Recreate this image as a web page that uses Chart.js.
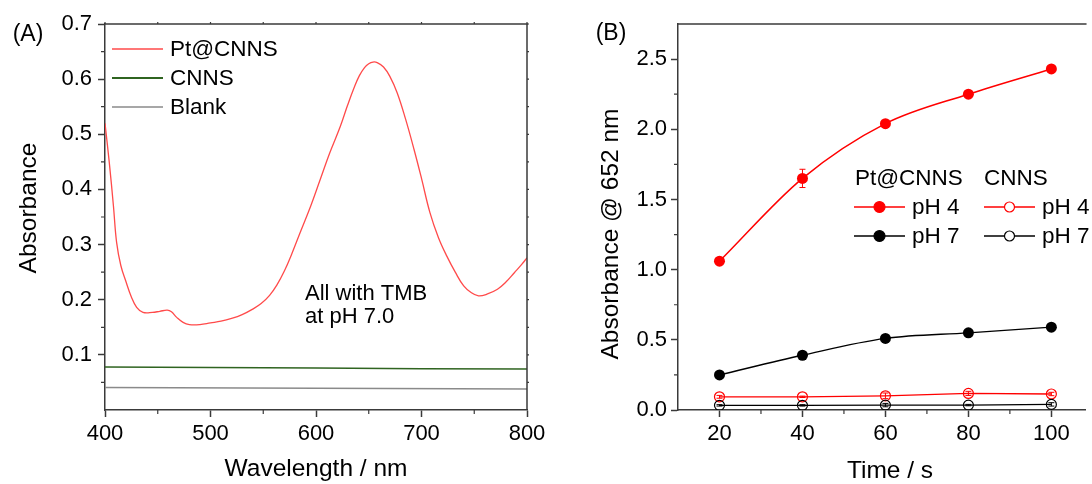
<!DOCTYPE html>
<html><head><meta charset="utf-8">
<script src="https://cdn.jsdelivr.net/npm/chart.js@4/dist/chart.umd.min.js"></script>
<style>
html,body{margin:0;padding:0;background:#fff;width:1092px;height:484px;overflow:hidden}
#ca{position:absolute;left:0;top:0}
#cb{position:absolute;left:560px;top:0}
</style></head><body>
<canvas id="ca" width="560" height="484"></canvas>
<canvas id="cb" width="532" height="484"></canvas>
<script>
// ---------- Panel A data ----------
const wavelengths = [400,404,408,411,415,420,425,430,436,445,452,459,463,468,474,480,490,500,510,520,530,540,548,556,563,570,577,585,595,604,613,623,630,636,641,646,650,654,658,664,670,677,685,693,700,708,716,724,732,740,747,754,762,772,780,788,795,800];
const ptCnnsAbs  = [0.52,0.45,0.37,0.304,0.262,0.232,0.205,0.186,0.177,0.177,0.179,0.181,0.178,0.168,0.159,0.155,0.155,0.158,0.161,0.166,0.173,0.183,0.193,0.208,0.227,0.252,0.283,0.322,0.37,0.418,0.466,0.514,0.553,0.584,0.606,0.621,0.628,0.631,0.63,0.622,0.605,0.575,0.527,0.472,0.42,0.358,0.313,0.279,0.25,0.225,0.213,0.207,0.21,0.219,0.232,0.249,0.264,0.276];
const cnnsWl   = [400,500,600,700,800];
const cnnsAbs  = [0.078,0.077,0.076,0.075,0.0745];
const blankWl  = [400,600,800];
const blankAbs = [0.041,0.0395,0.038];
const xTicksA = [400,500,600,700,800];
const xMinorA = [450,550,650,750];
const yTicksA = [0.1,0.2,0.3,0.4,0.5,0.6,0.7];
const yMinorA = [0.05,0.15,0.25,0.35,0.45,0.55,0.65];

// ---------- Panel B data ----------
const times = [20,40,60,80,100];
const ptPH4 = [1.06,1.65,2.04,2.25,2.43];
const ptPH7 = [0.25,0.39,0.51,0.55,0.59];
const cnPH4 = [0.094,0.094,0.101,0.118,0.114];
const cnPH7 = [0.033,0.033,0.035,0.035,0.04];
const ptPH4Err = [0.02,0.065,0.015,0.01,0.01];
const ptPH7Err = [0.01,0.01,0.01,0.01,0.01];
const cnPH4Err = [0.01,0.005,0.02,0.015,0.012];
const cnPH7Err = [0.005,0.005,0.012,0.005,0.012];
const xTicksB = [20,40,60,80,100];
const xMinorB = [30,50,70,90];
const yTicksB = [0,0.5,1.0,1.5,2.0,2.5];
const yMinorB = [0.25,0.75,1.25,1.75,2.25];

const FONT = "'Liberation Sans', Arial, sans-serif";
const AXIS = '#3a3a3a';

function pts(xs, ys){ return xs.map((x,i)=>({x:x, y:ys[i]})); }

const decor = {
  id:'decor',
  afterDatasetsDraw(chart, args, o){
    if(!o.errors) return;
    const ctx = chart.ctx, xs = chart.scales.x, ys = chart.scales.y;
    ctx.save();
    o.errors.forEach(e=>{
      const ds = chart.data.datasets[e.ds];
      ctx.strokeStyle = ds.borderColor; ctx.lineWidth = 1;
      ds.data.forEach((p,i)=>{
        const x = xs.getPixelForValue(p.x);
        const y1 = ys.getPixelForValue(p.y + e.err[i]);
        const y2 = ys.getPixelForValue(p.y - e.err[i]);
        ctx.beginPath();
        ctx.moveTo(x,y1); ctx.lineTo(x,y2);
        ctx.moveTo(x-3,y1); ctx.lineTo(x+3,y1);
        ctx.moveTo(x-3,y2); ctx.lineTo(x+3,y2);
        ctx.stroke();
      });
    });
    ctx.restore();
  },
  afterDraw(chart, args, o){
    const ctx = chart.ctx, a = chart.chartArea, xs = chart.scales.x, ys = chart.scales.y;
    ctx.save();
    ctx.strokeStyle = AXIS; ctx.lineWidth = 1.5;
    ctx.beginPath(); ctx.moveTo(a.left-0.75, a.top); ctx.lineTo(a.right+0.75, a.top); ctx.stroke();
    if(o.right){ ctx.beginPath(); ctx.moveTo(a.right, a.top); ctx.lineTo(a.right, a.bottom); ctx.stroke(); }
    ctx.lineWidth = 1.2;
    ctx.beginPath();
    o.minorX.forEach(v=>{ const p = xs.getPixelForValue(v); ctx.moveTo(p,a.bottom); ctx.lineTo(p,a.bottom+4); });
    o.minorY.forEach(v=>{ const p = ys.getPixelForValue(v); ctx.moveTo(a.left,p); ctx.lineTo(a.left-4,p); });
    if(o.right){
      o.minorX.concat(o.majorX).forEach(v=>{ const p = xs.getPixelForValue(v); ctx.moveTo(p,a.top); ctx.lineTo(p,a.top-2); });
      o.minorY.concat(o.majorY).forEach(v=>{ const p = ys.getPixelForValue(v); ctx.moveTo(a.right,p); ctx.lineTo(a.right+2,p); });
    }
    ctx.stroke();
    // texts
    ctx.fillStyle = '#000';
    o.texts.forEach(t=>{
      ctx.save();
      ctx.font = t.font; ctx.textAlign = t.align || 'left'; ctx.textBaseline = t.base || 'middle';
      ctx.translate(t.x, t.y);
      if(t.rot) ctx.rotate(t.rot);
      ctx.fillText(t.text, 0, 0);
      ctx.restore();
    });
    // legend
    o.legend.forEach(l=>{
      const ds = chart.data.datasets[l.ds];
      ctx.strokeStyle = ds.borderColor; ctx.lineWidth = l.lw || ds.borderWidth;
      ctx.beginPath(); ctx.moveTo(l.x0, l.y); ctx.lineTo(l.x1, l.y); ctx.stroke();
      if(l.marker){
        ctx.beginPath(); ctx.arc((l.x0+l.x1)/2, l.y, l.marker.r, 0, Math.PI*2);
        ctx.fillStyle = l.marker.fill; ctx.fill();
        ctx.lineWidth = 1.2; ctx.strokeStyle = ds.borderColor; ctx.stroke();
      }
      ctx.fillStyle = '#000'; ctx.font = '22.5px ' + FONT; ctx.textAlign = 'left'; ctx.textBaseline = 'middle';
      ctx.fillText(l.text, l.tx, l.y + 1);
    });
    ctx.restore();
  }
};

function axisOpts(min, max, ticks, fmt, fixSize, isX, pad){
  return {
    type:'linear', min:min, max:max,
    afterBuildTicks: s => { s.ticks = ticks.map(v=>({value:v})); },
    afterFit: s => { if(isX) s.height = fixSize; else s.width = fixSize; },
    ticks:{ font:{family:FONT, size:22}, color:'#000', padding:pad, maxRotation:0, autoSkip:false, callback:fmt },
    grid:{ drawOnChartArea:false, drawTicks:true, tickLength:7, tickColor:AXIS, tickWidth:1.5 },
    border:{ display:true, color:AXIS, width:1.5 }
  };
}

// ---------- Chart A ----------
new Chart(document.getElementById('ca'), {
  type:'line',
  data:{ datasets:[
    { label:'Blank', data:pts(blankWl, blankAbs), borderColor:'#8a8a8a', borderWidth:1.5, pointRadius:0 },
    { label:'CNNS', data:pts(cnnsWl, cnnsAbs), borderColor:'#2f6420', borderWidth:1.5, pointRadius:0 },
    { label:'Pt@CNNS', data:pts(wavelengths, ptCnnsAbs), borderColor:'#ff4a4a', borderWidth:1.3, pointRadius:0, tension:0.4 }
  ]},
  options:{
    responsive:false, animation:false, events:[],
    layout:{ padding:{ top:24, right:33, left:0, bottom:0 } },
    plugins:{
      legend:{display:false}, tooltip:{enabled:false},
      decor:{
        right:true, majorX:xTicksA, majorY:yTicksA, minorX:xMinorA, minorY:yMinorA,
        texts:[
          {text:'(A)', x:28, y:35, font:'23px '+FONT, align:'center'},
          {text:'Absorbance', x:29, y:208, font:'24.5px '+FONT, align:'center', rot:-Math.PI/2},
          {text:'Wavelength / nm', x:316, y:469, font:'24.5px '+FONT, align:'center'},
          {text:'All with TMB', x:305, y:300, font:'22px '+FONT, base:'alphabetic'},
          {text:'at pH 7.0', x:305, y:323, font:'22px '+FONT, base:'alphabetic'}
        ],
        legend:[
          {ds:2, x0:112, x1:163, y:49, tx:170, text:'Pt@CNNS'},
          {ds:1, x0:112, x1:163, y:78, tx:170, text:'CNNS', lw:2},
          {ds:0, x0:112, x1:163, y:107, tx:170, text:'Blank'}
        ]
      }
    },
    scales:{
      x: axisOpts(400, 800, xTicksA, v=>String(v), 74, true, 4),
      y: axisOpts(0, 0.7, yTicksA, v=>v.toFixed(1), 105, false, 6)
    }
  },
  plugins:[decor]
});

// ---------- Chart B ----------
new Chart(document.getElementById('cb'), {
  type:'line',
  data:{ datasets:[
    { label:'CNNS pH 7', data:pts(times, cnPH7), borderColor:'#000', borderWidth:1.3, pointRadius:5, pointBackgroundColor:'rgba(0,0,0,0)', pointBorderColor:'#000', pointBorderWidth:1.2 },
    { label:'CNNS pH 4', data:pts(times, cnPH4), borderColor:'#ff0000', borderWidth:1.3, pointRadius:5, pointBackgroundColor:'rgba(0,0,0,0)', pointBorderColor:'#ff0000', pointBorderWidth:1.2 },
    { label:'Pt@CNNS pH 7', data:pts(times, ptPH7), borderColor:'#000', borderWidth:1.3, pointRadius:5.5, pointBackgroundColor:'#000', pointBorderColor:'#000', pointBorderWidth:0, cubicInterpolationMode:'monotone' },
    { label:'Pt@CNNS pH 4', data:pts(times, ptPH4), borderColor:'#ff0000', borderWidth:1.5, pointRadius:5.5, pointBackgroundColor:'#ff0000', pointBorderColor:'#ff0000', pointBorderWidth:0, cubicInterpolationMode:'monotone' }
  ]},
  options:{
    responsive:false, animation:false, events:[],
    layout:{ padding:{ top:24, right:0, left:0, bottom:0 } },
    plugins:{
      legend:{display:false}, tooltip:{enabled:false},
      decor:{
        right:false, majorX:xTicksB, majorY:yTicksB, minorX:xMinorB, minorY:yMinorB,
        errors:[ {ds:0, err:cnPH7Err}, {ds:1, err:cnPH4Err}, {ds:2, err:ptPH7Err}, {ds:3, err:ptPH4Err} ],
        texts:[
          {text:'(B)', x:51, y:34, font:'23px '+FONT, align:'center'},
          {text:'Absorbance @ 652 nm', x:51, y:234, font:'24.5px '+FONT, align:'center', rot:-Math.PI/2},
          {text:'Time / s', x:330, y:471, font:'24.5px '+FONT, align:'center'},
          {text:'Pt@CNNS', x:295, y:179, font:'22.5px '+FONT},
          {text:'CNNS', x:424, y:179, font:'22.5px '+FONT}
        ],
        legend:[
          {ds:3, x0:294, x1:345, y:207, tx:352, text:'pH 4', marker:{r:5.5, fill:'#ff0000'}},
          {ds:2, x0:294, x1:345, y:236, tx:352, text:'pH 7', marker:{r:5.5, fill:'#000'}},
          {ds:1, x0:424, x1:475, y:207, tx:482, text:'pH 4', marker:{r:5, fill:'#fff'}},
          {ds:0, x0:424, x1:475, y:236, tx:482, text:'pH 7', marker:{r:5, fill:'#fff'}}
        ]
      }
    },
    scales:{
      x: axisOpts(10, 108.3, xTicksB, v=>String(v), 74, true, 4),
      y: axisOpts(0, 2.75, yTicksB, v=>v.toFixed(1), 118, false, 4)
    }
  },
  plugins:[decor]
});
</script>
</body></html>
